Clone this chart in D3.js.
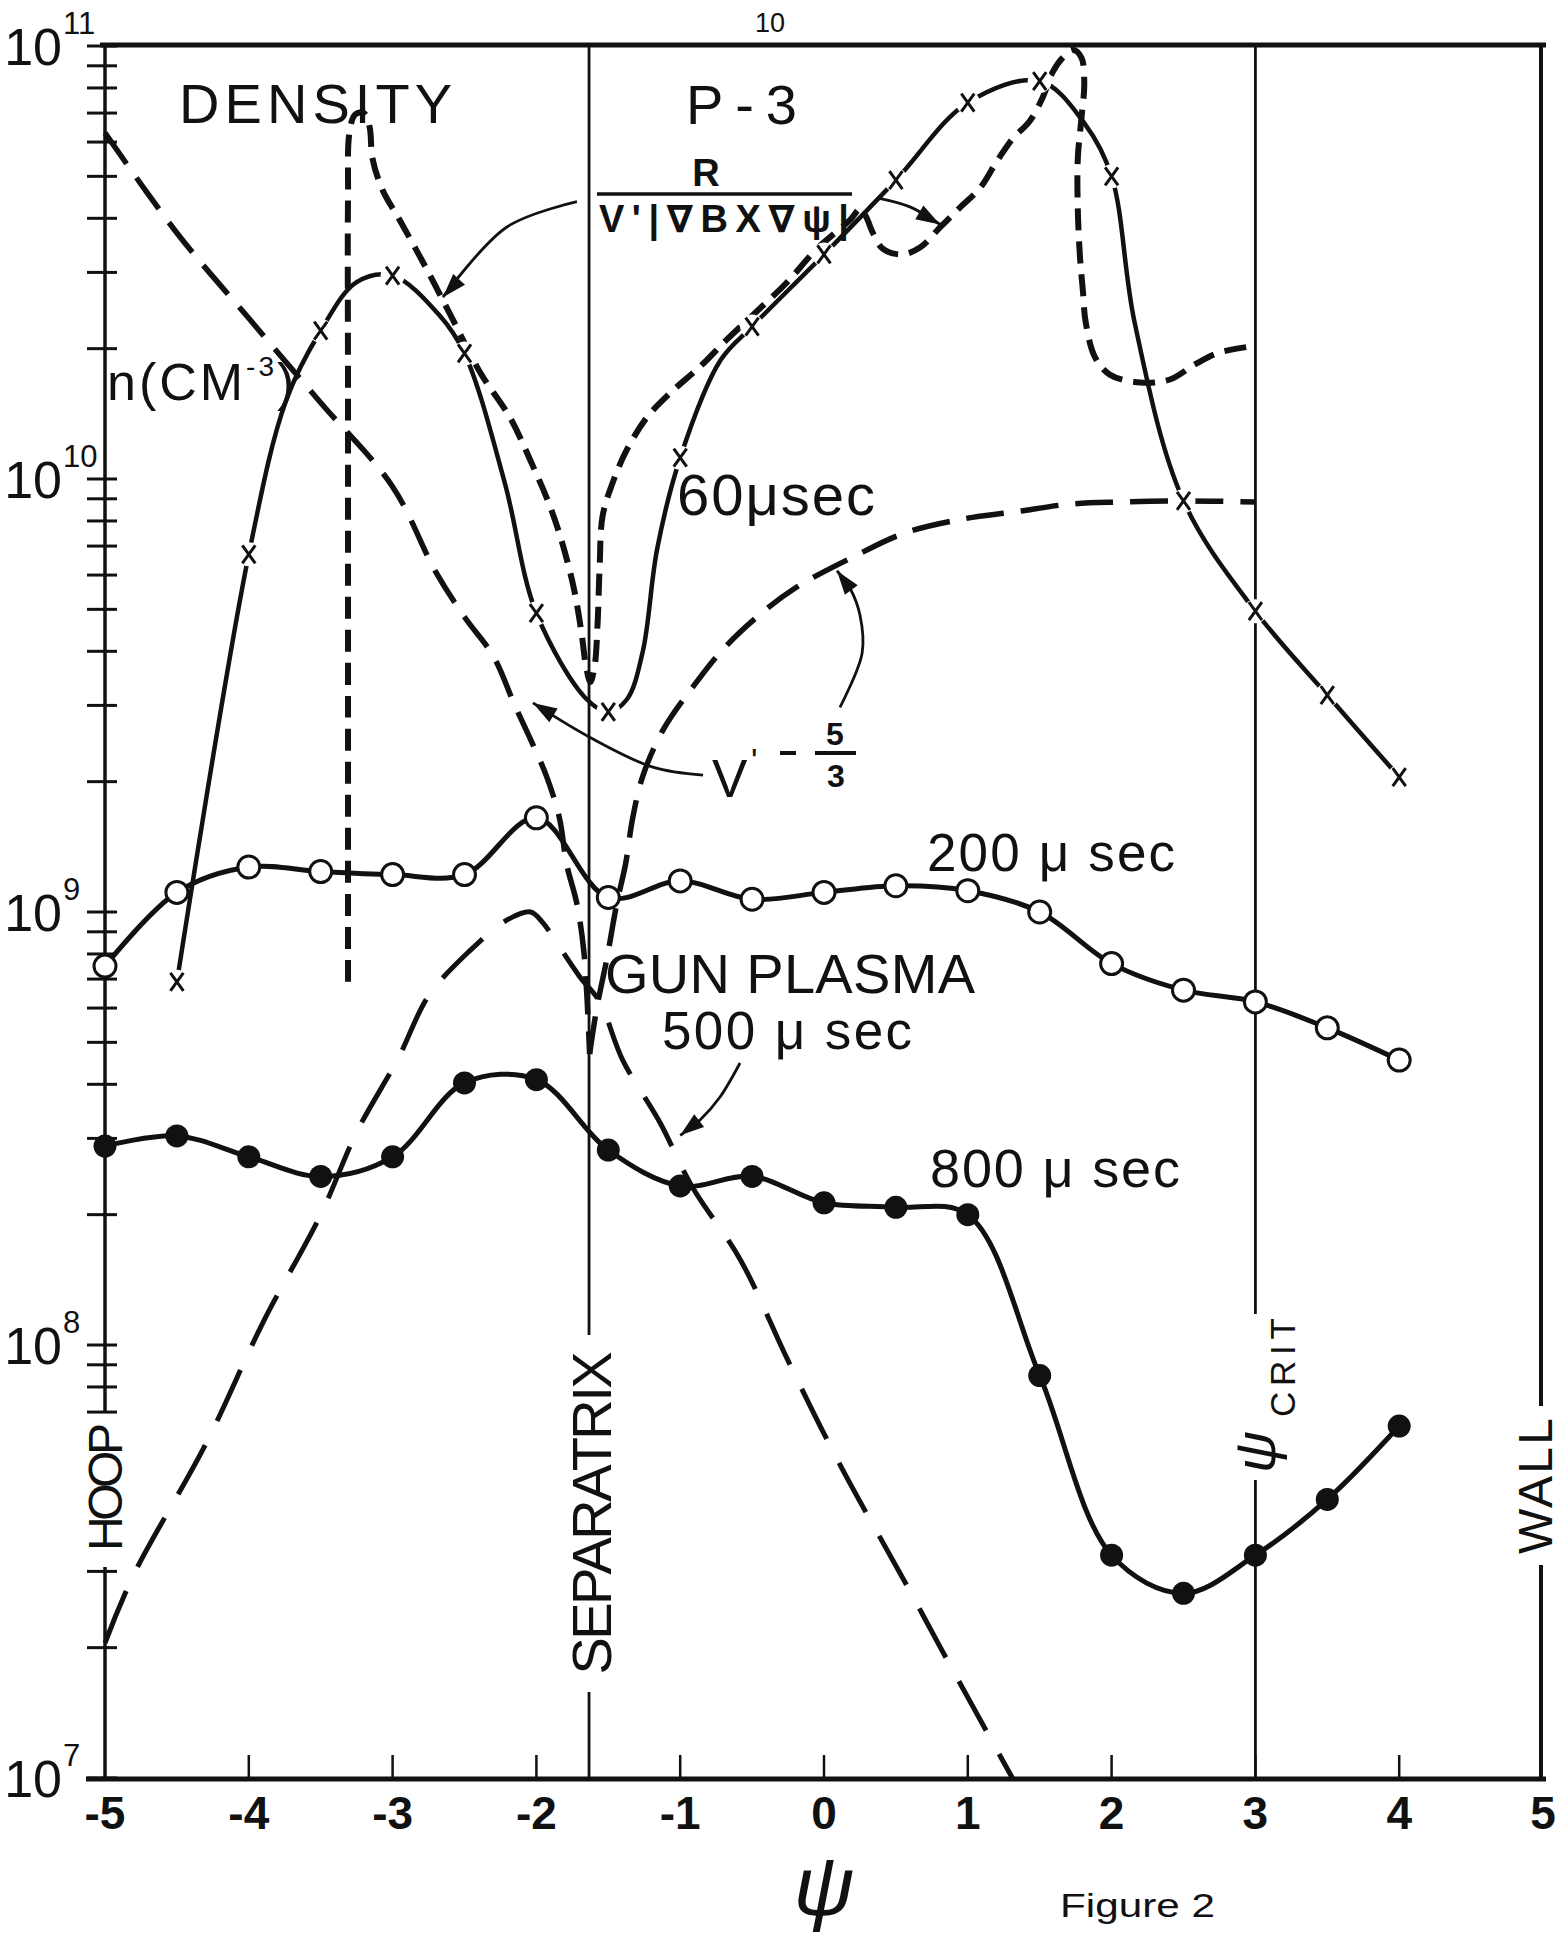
<!DOCTYPE html>
<html>
<head>
<meta charset="utf-8">
<script src="https://cdnjs.cloudflare.com/ajax/libs/d3/7.8.5/d3.min.js"></script>
<style>
  body { margin: 0; background: #fff; }
  svg { display: block; background: #fff; }
  text { font-family: "Liberation Sans", "DejaVu Sans", sans-serif; fill: #111; }
</style>
</head>
<body>
<div id="chart"></div>
<script>
// ---- data (psi, density in cm^-3) ----
const psiHalf = [-5, -4.5, -4, -3.5, -3, -2.5, -2, -1.5, -1, -0.5, 0, 0.5, 1, 1.5, 2, 2.5, 3, 3.5, 4];

const n200 = [7.5e8, 1.11e9, 1.27e9, 1.24e9, 1.22e9, 1.22e9, 1.65e9, 1.08e9, 1.18e9, 1.07e9,
  1.11e9, 1.15e9, 1.12e9, 1.0e9, 7.6e8, 6.6e8, 6.2e8, 5.4e8, 4.55e8];

const n800 = [2.88e8, 3.04e8, 2.72e8, 2.45e8, 2.72e8, 4.03e8, 4.1e8, 2.82e8, 2.33e8, 2.45e8,
  2.13e8, 2.08e8, 2.0e8, 8.5e7, 3.27e7, 2.67e7, 3.27e7, 4.4e7, 6.5e7];

const psi60 = [-4.5, -4, -3.5, -3, -2.5, -2, -1.5, -1, -0.5, 0, 0.5, 1, 1.5, 2, 2.5, 3, 3.5, 4];
const n60 = [6.9e8, 6.7e9, 2.2e10, 2.95e10, 1.95e10, 4.9e9, 2.9e9, 1.12e10, 2.25e10, 3.3e10,
  4.9e10, 7.4e10, 8.3e10, 5.0e10, 8.9e9, 4.95e9, 3.17e9, 2.05e9];

// extra points along the 60 usec line (between the x marks)
const knots60 = [[-3.74, 1.52e10], [-3.25, 2.85e10],
  [-2.68, 2.4e10], [-2.22, 9.8e9], [-1.65, 3.1e9], [-1.37, 3.1e9], [-1.26, 4.0e9],
  [-1.16, 6.9e9], [-0.72, 1.88e10], [1.815, 6.6e10], [2.16, 2.3e10]];

// V'^(-5/3), two branches meeting at the separatrix
const vLeft = [[-5.0, 6.3e10], [-4.5, 3.7e10], [-4.0, 2.35e10], [-3.5, 1.5e10], [-3.0, 9.6e9],
  [-2.7, 6.1e9], [-2.5, 4.8e9], [-2.3, 3.9e9], [-2.15, 3.0e9], [-2.04, 2.5e9], [-1.93, 2.06e9],
  [-1.84, 1.65e9], [-1.79, 1.29e9], [-1.72, 1.05e9], [-1.67, 8.1e8], [-1.63, 4.7e8]];
const vRight = [[-1.63, 4.7e8], [-1.58, 6.0e8], [-1.51, 7.8e8], [-1.44, 1.05e9], [-1.38, 1.29e9],
  [-1.33, 1.65e9], [-1.26, 2.06e9], [-1.12, 2.63e9], [-0.9, 3.35e9], [-0.7, 4.05e9], [-0.45, 4.85e9],
  [-0.2, 5.6e9], [0.2, 6.6e9], [0.56, 7.5e9], [0.98, 8.1e9], [1.33, 8.4e9], [1.71, 8.75e9],
  [2.06, 8.85e9], [2.48, 8.9e9], [3.0, 8.85e9]];

// gun plasma, 500 usec
const gunPlasma = [[-5, 2.05e7], [-4.8, 2.95e7], [-4.3, 5.9e7], [-3.9, 1.13e8], [-3.5, 2.0e8],
  [-3.25, 3.1e8], [-2.96, 4.6e8], [-2.75, 6.4e8], [-2.47, 8.1e8], [-2.2, 9.6e8], [-2.04, 1.0e9],
  [-1.95, 9.4e8], [-1.86, 8.5e8], [-1.7, 7.1e8], [-1.56, 6.2e8], [-1.4, 4.55e8], [-1.14, 3.26e8],
  [-0.92, 2.33e8], [-0.58, 1.57e8], [-0.25, 9.2e7], [0.11, 5.3e7], [0.58, 2.77e7], [0.81, 2.0e7],
  [1.31, 1.0e7]];

// R / (V'|gradB x grad psi|)
const rCurve = [[-3.31, 6.9e8], [-3.31, 3e9], [-3.31, 1.5e10], [-3.31, 4.5e10], [-3.3, 6.3e10],
  [-3.26, 6.95e10], [-3.2, 7.0e10], [-3.16, 6.5e10], [-3.14, 5.5e10], [-3.07, 4.65e10],
  [-2.95, 3.96e10], [-2.76, 3.04e10], [-2.58, 2.33e10], [-2.39, 1.76e10], [-2.18, 1.38e10],
  [-2.04, 1.1e10], [-1.92, 8.9e9], [-1.83, 7.3e9], [-1.74, 5.6e9], [-1.69, 4.5e9], [-1.655, 3.7e9],
  [-1.625, 3.4e9], [-1.595, 3.7e9], [-1.575, 4.6e9], [-1.56, 6.3e9], [-1.54, 8.2e9], [-1.47, 9.8e9],
  [-1.37, 1.17e10], [-1.23, 1.39e10], [-1.07, 1.58e10], [-0.86, 1.82e10], [-0.675, 2.1e10],
  [-0.49, 2.4e10], [-0.26, 2.84e10], [-0.05, 3.4e10], [0.18, 3.96e10], [0.25, 4.2e10],
  [0.29, 4.05e10], [0.34, 3.7e10], [0.41, 3.4e10], [0.54, 3.3e10], [0.67, 3.43e10], [0.81, 3.82e10],
  [0.95, 4.25e10], [1.085, 4.7e10], [1.2, 5.4e10], [1.31, 6.1e10], [1.43, 6.7e10], [1.52, 7.6e10],
  [1.59, 8.7e10], [1.66, 9.4e10], [1.73, 9.8e10], [1.79, 9.4e10], [1.81, 8.2e10], [1.79, 6.8e10],
  [1.765, 5.5e10], [1.765, 4.2e10], [1.78, 3.26e10], [1.8, 2.73e10], [1.82, 2.3e10],
  [1.885, 1.91e10], [1.99, 1.74e10], [2.2, 1.67e10], [2.41, 1.7e10], [2.58, 1.84e10],
  [2.75, 1.96e10], [3.0, 2.03e10]];

const xTicks = [-5, -4, -3, -2, -1, 0, 1, 2, 3, 4, 5];
const decades = [7, 8, 9, 10, 11];
const psiSeparatrix = -1.634;
const psiCrit = 3;

// annotation arrows, in data units, tip last
const arrows = [
  [[-1.718, 4.37e10], [-2.205, 3.82e10], [-2.65, 2.63e10]],
  [[0.369, 4.46e10], [0.598, 4.25e10], [0.807, 3.87e10]],
  [[-0.841, 2.07e9], [-1.19, 2.16e9], [-1.627, 2.53e9], [-2.024, 3.04e9]],
  [[0.111, 2.97e9], [0.265, 3.96e9], [0.25, 4.85e9], [0.18, 5.6e9], [0.09, 6.14e9]],
  [[-0.584, 4.48e8], [-0.723, 3.74e8], [-0.862, 3.31e8], [-1.0, 3.05e8]]
];

// ---- drawing ----
const W = 1565, H = 1937;
const ink = "#111";

const svg = d3.select("#chart").append("svg").attr("width", W).attr("height", H);

const x = d3.scaleLinear().domain([-5, 5]).range([105, 1543]);
const y = d3.scaleLog().domain([1e7, 1e11]).range([1778, 46]);

const line = d3.line()
  .x((d) => x(d[0]))
  .y((d) => y(d[1]))
  .curve(d3.curveCatmullRom.alpha(0.5));

const seg = (x1, y1, x2, y2, w) =>
  svg.append("line").attr("x1", x1).attr("y1", y1).attr("x2", x2).attr("y2", y2)
    .attr("stroke", ink).attr("stroke-width", w);

// frame and vertical reference lines (with gaps for the rotated labels)
seg(100, y(1e11) - 1, 1546, y(1e11) - 1, 5);
seg(x(5) - 2, 44, x(5) - 2, 1406, 4);
seg(x(5) - 2, 1565, x(5) - 2, 1780, 4);
seg(x(-5), 44, x(-5), 1413, 3.5);
seg(x(-5), 1567, x(-5), 1780, 3.5);
seg(86, 1779, 1546, 1779, 5);
seg(x(psiSeparatrix), 44, x(psiSeparatrix), 1335, 2.8);
seg(x(psiSeparatrix), 1692, x(psiSeparatrix), 1779, 2.8);
seg(x(psiCrit), 44, x(psiCrit), 1314, 2.8);
seg(x(psiCrit), 1480, x(psiCrit), 1779, 2.8);

// log ticks crossing the left axis
const yTickVals = [];
decades.slice(0, -1).forEach((d) => {
  for (let k = 1; k <= 9; k++) yTickVals.push(k * Math.pow(10, d));
});
yTickVals.push(1e11);
yTickVals.forEach((v) => {
  const py = y(v);
  if (py > 1413 && py < 1567) return;
  seg(87, py, 117, py, 3);
});

// bottom ticks
xTicks.slice(1, -1).forEach((v) => seg(x(v), 1755, x(v), 1779, 2.5));

// tick labels
svg.selectAll(".xlab").data(xTicks).join("text")
  .attr("x", (d) => x(d)).attr("y", 1829)
  .attr("text-anchor", "middle").attr("font-size", 46).attr("font-weight", "bold")
  .text((d) => String(d));

decades.forEach((d) => {
  const py = y(Math.pow(10, d));
  svg.append("text").attr("x", 62).attr("y", py + 19).attr("text-anchor", "end")
    .attr("font-size", 52).text("10");
  svg.append("text").attr("x", 63).attr("y", py - 12).attr("font-size", 31).text(String(d));
});

// dashed curves
const dashed = (pts, w, dash) =>
  svg.append("path").datum(pts).attr("d", line).attr("fill", "none")
    .attr("stroke", ink).attr("stroke-width", w).attr("stroke-dasharray", dash);

dashed(vLeft, 5.5, "38 17");
dashed(vRight, 5.5, "38 17");
dashed(gunPlasma, 5, "56 27");
dashed(rCurve, 6, "22 11");

// solid curves
const trace60 = psi60.map((p, i) => [p, n60[i]]).concat(knots60).sort((a, b) => a[0] - b[0]);
const pts200 = psiHalf.map((p, i) => [p, n200[i]]);
const pts800 = psiHalf.map((p, i) => [p, n800[i]]);

const solid = (pts, w) =>
  svg.append("path").datum(pts).attr("d", line).attr("fill", "none")
    .attr("stroke", ink).attr("stroke-width", w).attr("stroke-linejoin", "round");

solid(trace60, 4.5);
solid(pts200, 5);
solid(pts800, 5);

// markers
const pts60 = psi60.map((p, i) => [p, n60[i]]);
svg.selectAll(".gap60").data(pts60).join("circle")
  .attr("cx", (d) => x(d[0])).attr("cy", (d) => y(d[1])).attr("r", 12).attr("fill", "#fff");
svg.selectAll(".x60").data(pts60).join("path")
  .attr("transform", (d) => `translate(${x(d[0])},${y(d[1])})`)
  .attr("d", "M-6.5,-9L6.5,9M6.5,-9L-6.5,9")
  .attr("stroke", ink).attr("stroke-width", 3).attr("fill", "none");

svg.selectAll(".c200").data(pts200).join("circle")
  .attr("cx", (d) => x(d[0])).attr("cy", (d) => y(d[1])).attr("r", 11)
  .attr("fill", "#fff").attr("stroke", ink).attr("stroke-width", 3);

svg.selectAll(".c800").data(pts800).join("circle")
  .attr("cx", (d) => x(d[0])).attr("cy", (d) => y(d[1])).attr("r", 11.5)
  .attr("fill", ink);

// arrows
arrows.forEach((pts) => {
  svg.append("path").datum(pts).attr("d", line).attr("fill", "none")
    .attr("stroke", ink).attr("stroke-width", 2.8);
  const a = pts[pts.length - 2], b = pts[pts.length - 1];
  const tx = x(b[0]), ty = y(b[1]);
  const ang = Math.atan2(ty - y(a[1]), tx - x(a[0]));
  const L = 24, hw = 8;
  const bx = tx - L * Math.cos(ang), by = ty - L * Math.sin(ang);
  const px = -Math.sin(ang) * hw, py = Math.cos(ang) * hw;
  svg.append("path")
    .attr("d", `M${tx},${ty}L${bx + px},${by + py}L${bx - px},${by - py}Z`)
    .attr("fill", ink);
});

// labels
const label = (t, px, py, size, opts = {}) => {
  const el = svg.append("text").attr("x", px).attr("y", py).attr("font-size", size).text(t);
  if (opts.len) el.attr("textLength", opts.len).attr("lengthAdjust", "spacing");
  if (opts.anchor) el.attr("text-anchor", opts.anchor);
  if (opts.bold) el.attr("font-weight", "bold");
  return el;
};

label("DENSITY", 179, 123, 56, { len: 273 });
label("P-3", 686, 124, 56, { len: 111 });
label("R", 706, 186, 38, { anchor: "middle", bold: true });
seg(597, 194, 852, 194, 3.5);
label("V'|\u2207BX\u2207\u03C8|", 599, 232, 38, { len: 250, bold: true });

const nLab = svg.append("text").attr("x", 107).attr("y", 400).attr("font-size", 52)
  .attr("letter-spacing", 3);
nLab.append("tspan").text("n(CM");
nLab.append("tspan").attr("dy", -24).attr("font-size", 28).text("-3");
nLab.append("tspan").attr("dy", 24).text(")");

label("60\u03BCsec", 677, 515, 58, { len: 198 });
label("200 \u03BC sec", 927, 871, 53, { len: 248 });
label("GUN PLASMA", 605, 993, 56, { len: 370 });
label("500 \u03BC sec", 662, 1049, 53, { len: 250 });
label("800 \u03BC sec", 930, 1187, 54, { len: 250 });

// V'^(-5/3)
label("V", 712, 797, 53);
label("'", 751, 772, 34);
seg(780, 753, 796, 753, 4);
label("5", 835, 745, 32, { anchor: "middle", bold: true });
seg(815, 753, 856, 753, 4);
label("3", 836, 787, 32, { anchor: "middle", bold: true });

// rotated labels on the vertical lines
const vlabel = (t, cx, cy, base, size, len) => {
  svg.append("text")
    .attr("transform", `translate(${cx},${cy}) rotate(-90)`)
    .attr("x", 0).attr("y", base).attr("text-anchor", "middle")
    .attr("font-size", size).attr("textLength", len).attr("lengthAdjust", "spacing")
    .text(t);
};
vlabel("HOOP", x(-5), 1487, 17, 48, 128);
vlabel("SEPARATRIX", x(psiSeparatrix), 1513, 22, 56, 323);
vlabel("WALL", x(5) - 2, 1486, 11, 48, 136);

const crit = svg.append("g").attr("transform", `translate(${x(psiCrit)},1475) rotate(-90)`);
crit.append("text").attr("x", 2).attr("y", 20).attr("font-size", 58)
  .attr("font-family", "DejaVu Serif").attr("font-style", "italic").text("\u03C8");
crit.append("text").attr("x", 58).attr("y", 40).attr("font-size", 35)
  .attr("textLength", 99).attr("lengthAdjust", "spacing").text("CRIT");

// axis title, figure number, page number
svg.append("text").attr("x", x(0)).attr("y", 1915).attr("text-anchor", "middle")
  .attr("font-size", 84).attr("font-family", "DejaVu Serif").attr("font-style", "italic")
  .text("\u03C8");
svg.append("text").attr("x", 1060).attr("y", 1917).attr("font-size", 34)
  .attr("font-family", "Liberation Mono").attr("textLength", 155)
  .attr("lengthAdjust", "spacingAndGlyphs").text("Figure 2");
svg.append("text").attr("x", 770).attr("y", 32).attr("text-anchor", "middle")
  .attr("font-size", 27).attr("font-family", "Liberation Mono").text("10");
</script>
</body>
</html>
